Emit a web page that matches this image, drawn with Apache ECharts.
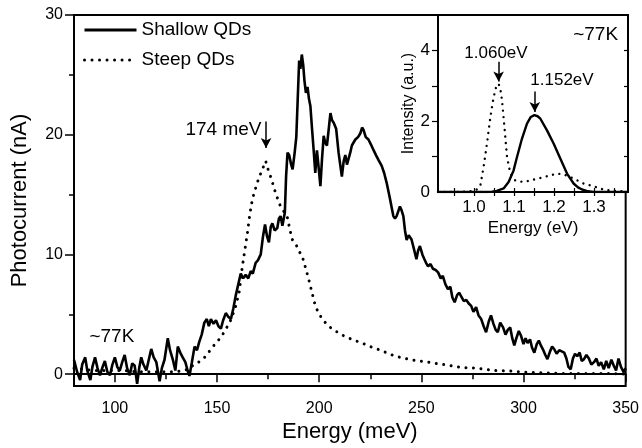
<!DOCTYPE html>
<html>
<head>
<meta charset="utf-8">
<script src="https://cdn.jsdelivr.net/npm/echarts@6/dist/echarts.min.js"></script>
<style>html,body{margin:0;padding:0;background:#fff}#c{width:642px;height:448px}</style>
</head>
<body>
<div id="c"></div>
<script>
// ---- Main panel data: photocurrent (nA) vs energy (meV) ----
const shallowQDs = [
[80,1.2],[81.5,0.2],[83,-0.5],[84,0.8],[85.5,1.4],[86.5,0.3],[88,-0.5],[89,0.6],[90.3,1.4],[91.5,0.5],
[92.7,-0.1],[94,0.6],[95.1,1.1],[96.3,0.2],[97.6,-0.1],[98.8,0.8],[100,1.4],[101.2,0.6],[102.4,0.3],[103.6,1.0],
[104.8,1.6],[106,0.5],[107.3,-0.1],[108.5,0.9],[109.7,0.7],[110.9,-0.8],[112,0.6],[112.9,1.4],[114,0.8],[115.4,0.3],
[116.6,1.2],[117.8,2.1],[119,1.4],[120.3,1.0],[121.9,-0.6],[123,0.5],[124.3,1.2],[125.9,3.0],[127,2.0],[128.4,1.2],
[129.6,0.3],[130.8,2.3],[132,1.8],[133.2,1.4],[134.5,1.0],[135.6,0.3],[136.5,-0.15],[137.7,1.0],[139,2.3],[140.2,2.0],
[141.3,2.7],[142.5,3.3],[143.8,4.3],[145,4.6],[146,4.0],[147,4.6],[148.3,4.2],[149.5,4.5],[150.7,4.0],[151.9,3.8],
[153,4.5],[154.3,5.1],[155.5,4.8],[156.8,4.6],[158,5.5],[159.2,6.6],[160.4,7.5],[161.6,8.4],[162.8,8.0],[164,8.3],
[165.3,8.0],[166.5,8.6],[167.5,8.4],[168.9,9.3],[170,9.5],[171.4,10.0],[172.5,11.5],[173.5,12.5],[174.5,11.5],[175.4,11.0],
[176.3,12.3],[177.1,12.6],[178.2,12.0],[179.5,12.2],[180.3,13.0],[181.1,13.2],[182,12.4],[183.2,13.5],[183.8,16.5],[184.5,18.5],
[185.3,18.3],[186.3,17.5],[187,17.1],[188,18.5],[188.8,19.8],[189.5,23],[190.2,26.2],[190.8,25.5],[191.5,26.7],[192.2,25.8],
[192.8,24.5],[193.5,23.5],[194.3,24.0],[195,23.0],[195.7,22.4],[196.5,20.5],[197.3,18.7],[198.1,16.8],[198.9,18.7],[199.6,17.5],
[200.6,15.7],[201.4,18],[202.2,19.9],[203,19.3],[203.8,19.1],[204.7,20.5],[205.5,21.8],[206.3,21.2],[207.1,21],[208.3,20.5],
[209.5,18.5],[210.3,17.5],[211.1,16.5],[212,17.8],[212.8,18.3],[213.6,17.5],[214.4,17.4],[215.2,18.5],[216,19.1],[217.7,19.6],
[219,19.8],[220.1,20.1],[221,20.6],[221.7,20.4],[222.8,19.8],[224.1,19.6],[225.3,19.2],[226.5,18.75],[227.8,18.3],[229,17.9],
[230.6,17.4],[231.8,16.8],[233,16.0],[234,15.2],[234.7,14.6],[235.5,13.9],[236.3,13.2],[237.1,13.0],[237.9,13.2],[238.7,13.6],
[239.5,14.0],[240.3,13.7],[241.2,13.2],[242,12.0],[242.8,11.2],[243.8,11.6],[245.2,11.25],[246.3,10.5],[247.6,9.6],[248.4,10.3],
[249.3,10.7],[250.5,10.0],[251.5,9.6],[252.3,9.3],[253.3,9.0],[254.5,9.2],[255.7,8.8],[257,8.7],[258.2,8.5],[259.5,8.0],
[260.5,8.2],[261.8,7.5],[263,7.1],[264.2,7.3],[265.2,6.4],[266.3,6.0],[267.5,6.6],[268.5,6.8],[269.5,6.5],[270.8,6.1],
[272,6.2],[273.2,5.9],[274.4,5.7],[275.5,5.2],[276.8,5.6],[278,4.9],[279.3,4.6],[280.5,4.0],[281.7,3.5],[283,4.4],
[284.1,4.9],[285.3,4.2],[286.4,3.7],[287.4,3.5],[288.6,4.3],[290,3.9],[291.2,3.3],[292.3,3.7],[293.5,3.9],[294.5,3.0],
[295.5,2.4],[296.5,3.0],[297.7,3.6],[298.8,3.2],[300,2.5],[301,3.0],[302,2.6],[303.2,2.9],[304.2,2.2],[305.3,1.8],
[306.5,2.5],[307.5,2.8],[308.5,2.4],[309.7,2.0],[310.7,1.6],[311.7,1.25],[313,1.9],[314,2.3],[315,2.1],[316.2,1.7],
[317.5,2.0],[318.7,1.9],[319.9,1.8],[321,1.3],[322,0.6],[323.1,0.4],[324.2,1.3],[325.2,1.7],[326.3,1.5],[327.5,1.8],
[328.5,1.1],[329.6,1.25],[330.8,1.6],[332,1.3],[333.2,0.8],[334.5,1.0],[335.7,1.3],[336.8,0.7],[338,1.0],[339.3,0.4],
[340.5,1.1],[341.7,0.5],[343,1.2],[344.2,0.7],[345.3,0.3],[346.5,1.3],[347.7,0.6],[349.1,0.15],[350,0.5]
];
const steepQDs = [
[80,0.5],[85,0.4],[90,0.3],[95,0.3],[100,0.3],[105,0.3],[110,0.2],[115,0.2],[120,0.2],[125,0.2],
[130,0.2],[133,0.3],[136,0.4],[138,0.7],[141,1.0],[144.6,1.5],[147.5,2.2],[149.5,2.6],[152,3.1],[154.3,3.75],
[157,4.6],[159.2,5.7],[160.8,6.8],[162.4,9.0],[164,10.8],[164.9,11.8],[166,13.3],[167.3,14.6],[168.5,15.3],[169.7,16.0],
[171,16.6],[172.2,17.1],[173.8,17.8],[175,17.1],[176.2,16.5],[177.5,15.8],[178.7,15.1],[180,14.5],[181.1,14.0],[182.7,13.6],
[184.3,13.2],[185.5,12.2],[186.8,11.25],[188.5,10.9],[190,10.3],[191.6,9.9],[193.3,8.9],[194.9,7.9],[196.5,6.8],[198.1,5.7],
[200,5.0],[202,4.5],[204.6,4.0],[208,3.6],[212,3.2],[216,2.9],[220.9,2.6],[225,2.3],[230,2.0],[237.1,1.5],
[245,1.2],[253.3,1.0],[261,0.8],[269.5,0.55],[277,0.5],[285.8,0.3],[294,0.25],[302,0.15],[310,0.1],[318.2,0.05],
[326,0.05],[334.5,0.05],[342,0.05],[350,0.0]
];
// ---- Inset data: PL intensity (a.u.) vs energy (eV) ----
const plShallow = [
[0.91,0],[0.95,0],[1.0,0],[1.03,0],[1.045,0.01],[1.057,0.03],[1.074,0.1],[1.0865,0.28],[1.099,0.61],[1.1075,0.99],
[1.12,1.51],[1.1325,1.93],[1.142,2.12],[1.151,2.17],[1.159,2.14],[1.166,2.07],[1.1825,1.74],[1.199,1.37],[1.216,0.94],[1.2325,0.52],
[1.249,0.24],[1.26,0.13],[1.27,0.07],[1.285,0.02],[1.299,0],[1.34,0],[1.385,0]
];
const plSteep = [
[0.91,0],[0.95,0],[0.98,0.01],[1.0,0.03],[1.008,0.08],[1.016,0.19],[1.024,0.71],[1.0325,1.37],[1.041,2.12],[1.049,2.68],
[1.055,2.95],[1.0615,3.06],[1.066,2.9],[1.07,2.59],[1.076,1.84],[1.0825,0.99],[1.091,0.52],[1.103,0.33],[1.124,0.28],[1.149,0.35],
[1.174,0.42],[1.2075,0.52],[1.224,0.5],[1.249,0.38],[1.274,0.24],[1.299,0.16],[1.324,0.07],[1.349,0.03],[1.385,0.01]
];
// ---- Tick labels ----
const mainXTicks = [100,150,200,250,300,350];
const mainXMinor = [125,175,225,275,325];
const mainYTicks = [0,10,20,30];
const mainYMinor = [5,15,25];
const insetXLabels = [1.0,1.1,1.2,1.3];
const insetXTicks = [0.95,1.0,1.05,1.1,1.15,1.2,1.25,1.3,1.35];
const insetYLabels = [0,2,4];
const insetYTicks = [1,2,3,4];

const FONT = '"Liberation Sans", Arial, sans-serif';
const BLK = '#000';
const chart = echarts.init(document.getElementById('c'));

const txt = (coord, text, position, size) => ({
  coord: coord,
  label: {show: true, formatter: text, position: position, distance: 0, fontSize: size, color: BLK, fontFamily: FONT}
});
const arrow = (a, b) => [{coord: a}, {coord: b}];
const markLineStyle = {
  silent: true, symbol: ['none', 'arrow'], symbolSize: [8, 10], animation: false,
  label: {show: false}, lineStyle: {color: BLK, width: 1.5, type: 'solid'}, emphasis: {disabled: true}
};
const markPointStyle = {
  silent: true, symbol: 'circle', symbolSize: 1, itemStyle: {color: 'rgba(0,0,0,0)'}, animation: false
};

const option = {
  animation: false,
  backgroundColor: '#fff',
  textStyle: {fontFamily: FONT, color: BLK},
  legend: {
    data: ['Shallow QDs', 'Steep QDs'], orient: 'vertical', left: 78, top: 15,
    itemWidth: 52, itemHeight: 14, itemGap: 10, selectedMode: false,
    itemStyle: {color: 'rgba(0,0,0,0)', borderWidth: 0, opacity: 0},
    lineStyle: {width: 3},
    textStyle: {fontSize: 19, lineHeight: 20, color: BLK, fontFamily: FONT}
  },
  grid: [
    {left: 74, right: 14, top: 15, bottom: 61, show: true, borderColor: BLK, borderWidth: 2, backgroundColor: 'rgba(0,0,0,0)'},
    {left: 438, right: 14, top: 15, bottom: 256, show: true, borderColor: BLK, borderWidth: 2, backgroundColor: '#fff'}
  ],
  xAxis: [
    {type: 'value', gridIndex: 0, min: 80, max: 350, position: 'bottom',
     axisLine: {show: true, lineStyle: {color: BLK, width: 2}},
     axisTick: {show: true, customValues: mainXTicks, length: 8, lineStyle: {color: BLK, width: 1.5}},
     axisLabel: {customValues: mainXTicks, fontSize: 16, margin: 14, color: BLK, fontFamily: FONT},
     splitLine: {show: false},
     name: 'Energy (meV)', nameLocation: 'middle', nameGap: 33,
     nameTextStyle: {fontSize: 22, color: BLK, fontFamily: FONT}},
    {type: 'value', gridIndex: 0, min: 80, max: 350, position: 'bottom',
     axisLine: {show: false},
     axisTick: {show: true, customValues: mainXMinor, length: 5, lineStyle: {color: BLK, width: 1.5}},
     axisLabel: {show: false}, splitLine: {show: false}},
    {type: 'value', gridIndex: 1, min: 0.91, max: 1.385, position: 'bottom',
     axisLine: {show: true, lineStyle: {color: BLK, width: 2}},
     axisTick: {show: true, inside: true, customValues: insetXTicks, length: 4, lineStyle: {color: BLK, width: 1.2}},
     axisLabel: {customValues: insetXLabels, formatter: v => v.toFixed(1), fontSize: 17, margin: 7, color: BLK, fontFamily: FONT},
     splitLine: {show: false},
     name: 'Energy (eV)', nameLocation: 'middle', nameGap: 28,
     nameTextStyle: {fontSize: 17, color: BLK, fontFamily: FONT}},
    {type: 'value', gridIndex: 1, min: 0.91, max: 1.385, position: 'top',
     axisLine: {show: false},
     axisTick: {show: true, inside: true, customValues: insetXTicks, length: 4, lineStyle: {color: BLK, width: 1.2}},
     axisLabel: {show: false}, splitLine: {show: false}}
  ],
  yAxis: [
    {type: 'value', gridIndex: 0, min: -1, max: 30, position: 'left',
     axisLine: {show: true, lineStyle: {color: BLK, width: 2}},
     axisTick: {show: true, customValues: mainYTicks, length: 9, lineStyle: {color: BLK, width: 1.5}},
     axisLabel: {customValues: mainYTicks, fontSize: 16, margin: 11, color: BLK, fontFamily: FONT},
     splitLine: {show: false},
     name: 'Photocurrent (nA)', nameLocation: 'middle', nameGap: 43,
     nameTextStyle: {fontSize: 22, color: BLK, fontFamily: FONT}},
    {type: 'value', gridIndex: 0, min: -1, max: 30, position: 'left',
     axisLine: {show: false},
     axisTick: {show: true, customValues: mainYMinor, length: 5, lineStyle: {color: BLK, width: 1.5}},
     axisLabel: {show: false}, splitLine: {show: false}},
    {type: 'value', gridIndex: 1, min: 0, max: 5, interval: 1, position: 'left',
     axisLine: {show: true, lineStyle: {color: BLK, width: 2}},
     axisTick: {show: true, customValues: insetYTicks, length: 6, lineStyle: {color: BLK, width: 1.2}},
     axisLabel: {customValues: insetYLabels, fontSize: 17, margin: 8, color: BLK, fontFamily: FONT},
     splitLine: {show: false},
     name: 'Intensity (a.u.)', nameLocation: 'middle', nameGap: 19,
     nameTextStyle: {fontSize: 16, color: BLK, fontFamily: FONT}},
    {type: 'value', gridIndex: 1, min: 0, max: 5, interval: 1, position: 'right',
     axisLine: {show: false},
     axisTick: {show: true, inside: true, customValues: insetYTicks, length: 4, lineStyle: {color: BLK, width: 1.2}},
     axisLabel: {show: false}, splitLine: {show: false}}
  ],
  series: [
    {name: 'Shallow QDs', type: 'line', xAxisIndex: 0, yAxisIndex: 0, data: shallowQDs,
     symbol: 'none', lineStyle: {color: BLK, width: 2.6}, itemStyle: {color: BLK}, z: 3,
     markPoint: Object.assign({}, markPointStyle, {
       data: [txt([172, 20.4], '174 meV', 'left', 19), txt([87.3, 3.1], '~77K', 'right', 19)]
     })},
    {name: 'Steep QDs', type: 'line', xAxisIndex: 0, yAxisIndex: 0, data: steepQDs,
     symbol: 'none', lineStyle: {color: BLK, width: 3, type: [0.01, 7.5], cap: 'round'}, itemStyle: {color: BLK}, z: 2,
     markLine: Object.assign({}, markLineStyle, {data: [arrow([174, 21.1], [174, 18.9])]})},
    {name: 'PL Shallow', type: 'line', xAxisIndex: 2, yAxisIndex: 2, data: plShallow,
     symbol: 'none', lineStyle: {color: BLK, width: 2.4}, itemStyle: {color: BLK}, z: 4,
     markLine: Object.assign({}, markLineStyle, {data: [arrow([1.152, 2.84], [1.152, 2.26])]}),
     markPoint: Object.assign({}, markPointStyle, {
       data: [txt([1.22, 3.15], '1.152eV', 'inside', 17), txt([1.3615, 4.43], '~77K', 'left', 19)]
     })},
    {name: 'PL Steep', type: 'line', xAxisIndex: 2, yAxisIndex: 2, data: plSteep,
     symbol: 'none', lineStyle: {color: BLK, width: 2.4, type: [0.01, 6.5], cap: 'round'}, itemStyle: {color: BLK}, z: 4,
     markLine: Object.assign({}, markLineStyle, {data: [arrow([1.0615, 3.68], [1.0615, 3.12])]}),
     markPoint: Object.assign({}, markPointStyle, {
       data: [txt([1.055, 3.91], '1.060eV', 'inside', 17)]
     })}
  ]
};
chart.setOption(option);
</script>
</body>
</html>
